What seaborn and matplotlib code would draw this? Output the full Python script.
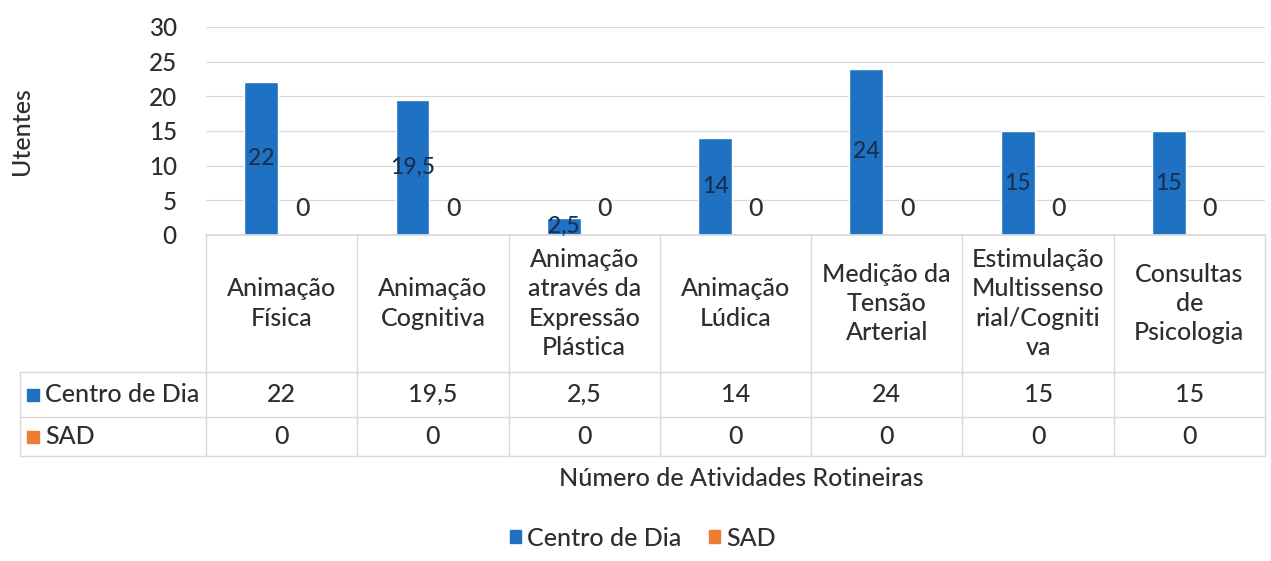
import matplotlib.pyplot as plt
import pandas as pd
import seaborn as sns
from matplotlib.patches import Patch

# data
atividades = [
    "Animação\nFísica",
    "Animação\nCognitiva",
    "Animação\natravés da\nExpressão\nPlástica",
    "Animação\nLúdica",
    "Medição da\nTensão\nArterial",
    "Estimulação\nMultissenso\nrial/Cogniti\nva",
    "Consultas\nde\nPsicologia",
]
centro_de_dia = [22, 19.5, 2.5, 14, 24, 15, 15]
sad = [0, 0, 0, 0, 0, 0, 0]
series = ["Centro de Dia", "SAD"]
cores = ["#1F72C3", "#ED7D31"]
y_ticks = [0, 5, 10, 15, 20, 25, 30]

TXT = "#2E2E2E"
GRID = "#D9D9D9"
FW = "medium"
FS = 18

sns.set_theme(style="white")
plt.rcParams["font.family"] = ["Lato", "DejaVu Sans"]
plt.rcParams["font.weight"] = FW

W, H = 1271, 561
fig = plt.figure(figsize=(W / 100, H / 100), dpi=100)


def px_box(left, top, right, bottom):
    return [left / W, 1 - bottom / H, (right - left) / W, (bottom - top) / H]


def fmt(v):
    return f"{v:g}".replace(".", ",")


df = pd.DataFrame({
    "Atividade": atividades * 2,
    "Utentes": centro_de_dia + sad,
    "Serie": [series[0]] * len(atividades) + [series[1]] * len(atividades),
})

# -----------------------------
# Bar chart
# -----------------------------
ax = fig.add_axes(px_box(206, 27, 1265, 235))
sns.barplot(data=df, x="Atividade", y="Utentes", hue="Serie", palette=cores,
            width=0.54, gap=0.17, saturation=1, legend=False, ax=ax)
ax.set_xlim(-0.5, len(atividades) - 0.5)
ax.set_ylim(0, 30)
ax.set_yticks(y_ticks)
ax.tick_params(axis="y", length=0, labelsize=17.5, labelcolor=TXT, pad=21)
ax.set_xticks([])
ax.set_xlabel("")
ax.yaxis.grid(True, color=GRID, lw=0.9)
ax.set_axisbelow(True)
for s in ["top", "right", "left"]:
    ax.spines[s].set_visible(False)
ax.spines["bottom"].set_color(GRID)
ax.set_ylabel("Utentes", fontsize=FS, color=TXT, fontweight=FW)
ax.yaxis.set_label_coords(-0.163, 0.5)

ax.bar_label(ax.containers[0], labels=[fmt(v) for v in centro_de_dia],
             label_type="center", fontsize=16.5, color="#1A2F4D")
ax.bar_label(ax.containers[1], labels=[fmt(v) for v in sad],
             padding=11, fontsize=FS, color=TXT)

# -----------------------------
# Data table
# -----------------------------
axt = fig.add_axes(px_box(206, 235, 1265, 456), sharex=ax)
axt.set_ylim(221, 0)
axt.axis("off")
left_col = -0.5 - (206 - 20) / ((1265 - 206) / len(atividades))
rows = [137, 182, 221]
line_kw = dict(color=GRID, lw=1, clip_on=False)

for k in range(len(atividades) + 1):
    axt.plot([k - 0.5, k - 0.5], [0, rows[2]], **line_kw)
axt.plot([left_col, left_col], [rows[0], rows[2]], **line_kw)
for r in rows:
    axt.plot([left_col, len(atividades) - 0.5], [r, r], **line_kw)

for i, nome in enumerate(atividades):
    axt.text(i, rows[0] / 2, nome, ha="center", va="center", fontsize=FS,
             color=TXT, linespacing=1.32)
    axt.text(i, (rows[0] + rows[1]) / 2, fmt(centro_de_dia[i]), ha="center",
             va="center", fontsize=FS, color=TXT)
    axt.text(i, (rows[1] + rows[2]) / 2, fmt(sad[i]), ha="center",
             va="center", fontsize=FS, color=TXT)

for j, (nome, cor) in enumerate(zip(series, cores)):
    yc = (rows[j] + rows[j + 1]) / 2
    axt.plot(left_col + 0.085, yc, marker="s", ms=8.5, color=cor, clip_on=False)
    axt.text(left_col + 0.165, yc, nome, ha="left", va="center", fontsize=FS,
             color=TXT)

fig.text(741 / W, 1 - 478 / H, "Número de Atividades Rotineiras",
         ha="center", va="center", fontsize=FS, color=TXT)

handles = [Patch(color=c, label=s) for s, c in zip(series, cores)]
fig.legend(handles=handles, loc="center", bbox_to_anchor=(643 / W, 1 - 538 / H),
           ncol=2, frameon=False, handlelength=0.45, handleheight=0.45,
           handletextpad=0.25, columnspacing=1.1, fontsize=FS,
           labelcolor=TXT)

fig.savefig("out.png", dpi=100)
